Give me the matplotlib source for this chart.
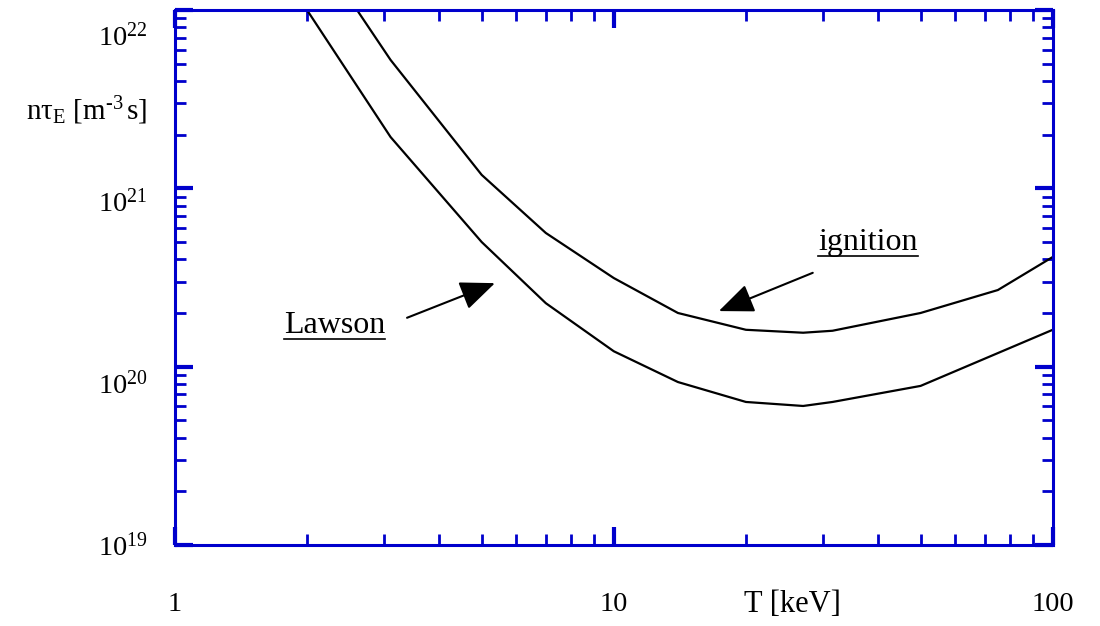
import numpy as np
import matplotlib
matplotlib.use('Agg')
import matplotlib.pyplot as plt
from matplotlib import transforms
from matplotlib.lines import Line2D

plt.rcParams['font.family'] = ['Liberation Serif', 'DejaVu Serif']
plt.rcParams['mathtext.fontset'] = 'custom'
plt.rcParams['mathtext.rm'] = 'Liberation Serif'
plt.rcParams['mathtext.it'] = 'Liberation Serif:italic'
plt.rcParams['mathtext.default'] = 'rm'

# Triple product curves (T in keV, n*tau_E in m^-3 s)
T_lawson = [2.0, 3.1, 5.0, 7.0, 10.0, 14.0, 20.0, 27.0, 31.5, 50.0, 100.0]
nt_lawson = [1.0e22, 1.94e21, 5.0e20, 2.27e20, 1.22e20, 8.2e19, 6.34e19, 6.02e19, 6.34e19, 7.8e19, 1.61e20]

T_ignition = [2.6, 3.1, 5.0, 7.0, 10.0, 14.0, 20.0, 27.0, 31.5, 50.0, 75.0, 100.0]
nt_ignition = [1.0e22, 5.25e21, 1.19e21, 5.62e20, 3.14e20, 2.0e20, 1.61e20, 1.55e20, 1.59e20, 2.0e20, 2.69e20, 4.12e20]

xticks = [1, 10, 100]
xticklabels = ['1', '10', '100']
yticks = [1e19, 1e20, 1e21, 1e22]
yticklabels = [r'$10^{19}$', r'$10^{20}$', r'$10^{21}$', r'$10^{22}$']

blue = '#0000cc'

fig = plt.figure(figsize=(11, 6.26), dpi=100)
ax = fig.add_axes([0.159, 0.1294, 0.798, 0.8546])

ax.plot(T_lawson, nt_lawson, color='black', lw=1.6)
ax.plot(T_ignition, nt_ignition, color='black', lw=1.6)

ax.set_xscale('log')
ax.set_yscale('log')
ax.set_xlim(1, 100)
ax.set_ylim(1e19, 1e22)

for s in ax.spines.values():
    s.set_color(blue)
    s.set_linewidth(2.2)

ax.tick_params(which='both', direction='in', color=blue, top=True, right=True)
ax.tick_params(which='major', length=13, width=3)
ax.tick_params(which='minor', length=8, width=2)
ax.tick_params(axis='x', which='major', pad=34, labelsize=20.5)
ax.set_xticks(xticks)
ax.set_xticklabels(xticklabels)

# y tick labels drawn by hand, they sit a little below their ticks
ax.set_yticks(yticks)
ax.set_yticklabels([])
yshift = [2, 19, 15, 27]
for v, lab, dy in zip(yticks, yticklabels, yshift):
    tr = transforms.blended_transform_factory(ax.transAxes, ax.transData) + \
        transforms.ScaledTranslation(0, -dy / 100, fig.dpi_scale_trans)
    ax.text(-0.031, v, lab, transform=tr, ha='right', va='center', fontsize=20.5)

ax.set_xlabel('T [keV]', fontsize=22)
ax.xaxis.set_label_coords(0.703, -0.112)
ax.xaxis.label.set_va('center')

ax.text(-0.101, 0.811, r'$\mathrm{n\tau_E\ [m^{\text{-}3}\,s]}$', transform=ax.transAxes,
        ha='center', va='center', fontsize=21)

arrow = dict(arrowstyle='-|>,head_length=0.6,head_width=0.25', mutation_scale=36,
             color='black', lw=1.5, shrinkA=0, shrinkB=0)

t_law = ax.text(2.31, 1.71e20, 'Lawson', fontsize=23, ha='center', va='center')
ax.annotate('', xy=(5.36, 2.94e20), xytext=(3.38, 1.88e20), arrowprops=arrow)

t_ign = ax.text(37.9, 4.94e20, 'ignition', fontsize=23, ha='center', va='center')
ax.annotate('', xy=(17.35, 2.05e20), xytext=(28.4, 3.36e20), arrowprops=arrow)

# underline the two curve labels
fig.canvas.draw()
r = fig.canvas.get_renderer()
for t in (t_law, t_ign):
    bb = t.get_window_extent(r)
    y = bb.y0 + 1
    fig.add_artist(Line2D([bb.x0, bb.x1], [y, y], transform=None, color='black', lw=1.2))

fig.savefig('out.png', dpi=100)
